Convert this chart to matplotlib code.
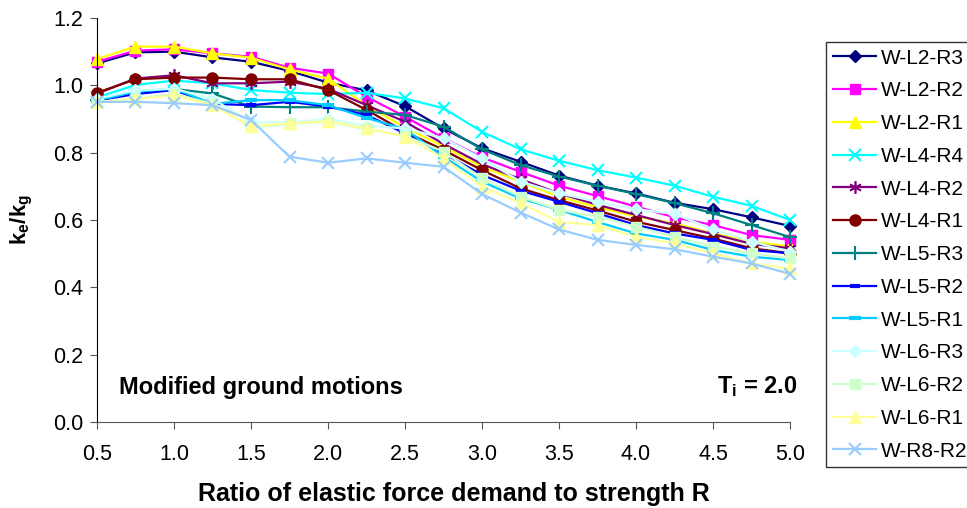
import matplotlib
matplotlib.use("Agg")
import matplotlib.pyplot as plt
from matplotlib.ticker import MultipleLocator, FormatStrFormatter

plt.rcParams['font.family'] = ['Liberation Sans', 'DejaVu Sans']
plt.rcParams['mathtext.fontset'] = 'custom'
plt.rcParams['mathtext.rm'] = 'Liberation Sans'
plt.rcParams['mathtext.bf'] = 'Liberation Sans:bold'
plt.rcParams['mathtext.it'] = 'Liberation Sans:italic'

R = [0.5, 0.75, 1.0, 1.25, 1.5, 1.75, 2.0, 2.25, 2.5, 2.75, 3.0,
     3.25, 3.5, 3.75, 4.0, 4.25, 4.5, 4.75, 5.0]

w_l2_r3 = [1.065, 1.098, 1.100, 1.083, 1.070, 1.043, 1.008, 0.985, 0.938, 0.872, 0.813,
           0.773, 0.732, 0.702, 0.679, 0.651, 0.632, 0.608, 0.582]
w_l2_r2 = [1.070, 1.103, 1.107, 1.095, 1.085, 1.052, 1.035, 0.966, 0.907, 0.843, 0.786,
           0.743, 0.702, 0.671, 0.640, 0.608, 0.585, 0.555, 0.541]
w_l2_r1 = [1.078, 1.115, 1.115, 1.095, 1.082, 1.047, 1.020, 0.940, 0.875, 0.818, 0.758,
           0.714, 0.669, 0.638, 0.610, 0.590, 0.560, 0.536, 0.521]
w_l4_r4 = [0.964, 1.001, 1.014, 1.006, 0.986, 0.978, 0.974, 0.978, 0.961, 0.932, 0.862,
           0.810, 0.776, 0.748, 0.726, 0.702, 0.669, 0.642, 0.600]
w_l4_r2 = [0.975, 1.020, 1.030, 1.006, 1.006, 1.011, 0.990, 0.941, 0.892, 0.826, 0.766,
           0.721, 0.679, 0.645, 0.615, 0.585, 0.558, 0.529, 0.516]
w_l4_r1 = [0.978, 1.018, 1.023, 1.023, 1.018, 1.018, 0.986, 0.927, 0.862, 0.808, 0.748,
           0.694, 0.659, 0.628, 0.595, 0.570, 0.545, 0.516, 0.501]
w_l5_r3 = [0.956, 0.981, 0.989, 0.976, 0.937, 0.935, 0.935, 0.922, 0.912, 0.877, 0.810,
           0.763, 0.729, 0.702, 0.677, 0.650, 0.620, 0.585, 0.549]
w_l5_r2 = [0.955, 0.974, 0.986, 0.945, 0.941, 0.951, 0.937, 0.912, 0.857, 0.798, 0.734,
           0.687, 0.654, 0.620, 0.585, 0.560, 0.541, 0.511, 0.501]
w_l5_r1 = [0.955, 0.981, 0.990, 0.945, 0.956, 0.956, 0.941, 0.903, 0.870, 0.788, 0.714,
           0.664, 0.630, 0.594, 0.560, 0.541, 0.511, 0.491, 0.481]
w_l6_r3 = [0.960, 0.985, 0.990, 0.960, 0.890, 0.890, 0.900, 0.880, 0.872, 0.843, 0.783,
           0.714, 0.679, 0.654, 0.632, 0.618, 0.572, 0.536, 0.506]
w_l6_r2 = [0.950, 0.960, 0.975, 0.945, 0.875, 0.885, 0.892, 0.870, 0.850, 0.803, 0.724,
           0.669, 0.630, 0.610, 0.580, 0.550, 0.521, 0.501, 0.486]
w_l6_r1 = [0.950, 0.959, 0.971, 0.941, 0.879, 0.887, 0.894, 0.872, 0.847, 0.783, 0.699,
           0.650, 0.594, 0.585, 0.550, 0.531, 0.501, 0.471, 0.456]
w_r8_r2 = [0.951, 0.951, 0.947, 0.941, 0.897, 0.788, 0.770, 0.783, 0.770, 0.758, 0.677,
           0.622, 0.572, 0.541, 0.526, 0.513, 0.491, 0.471, 0.440]

series_names = ['W-L2-R3', 'W-L2-R2', 'W-L2-R1', 'W-L4-R4', 'W-L4-R2', 'W-L4-R1',
                'W-L5-R3', 'W-L5-R2', 'W-L5-R1', 'W-L6-R3', 'W-L6-R2', 'W-L6-R1', 'W-R8-R2']
series_values = [w_l2_r3, w_l2_r2, w_l2_r1, w_l4_r4, w_l4_r2, w_l4_r1,
                 w_l5_r3, w_l5_r2, w_l5_r1, w_l6_r3, w_l6_r2, w_l6_r1, w_r8_r2]

colors = ['#000080', '#FF00FF', '#FFFF00', '#00FFFF', '#800080', '#800000',
          '#008080', '#0000FF', '#00CCFF', '#CCFFFF', '#CCFFCC', '#FFFF99', '#99CCFF']
markers = ['D', 's', '^', 'x', (6, 2, 0), 'o', '+', '_', '_', 'D', 's', '^', 'x']
msizes = [6, 7, 9, 9, 9, 8, 10, 7, 8, 6, 7, 9, 9]
mews = [1, 1, 1, 1.5, 1.2, 1, 1.5, 3, 3, 1, 1, 1, 1.5]

fig = plt.figure(figsize=(9.67, 5.08), dpi=100)
ax = fig.add_axes([0.1003, 0.1693, 0.7167, 0.7953])

for name, vals, c, m, ms, mew in zip(series_names, series_values, colors, markers, msizes, mews):
    ax.plot(R, vals, color=c, marker=m, markersize=ms, markeredgewidth=mew,
            markerfacecolor=c, markeredgecolor=c, linewidth=1.6, label=name,
            clip_on=False)

ax.set_xlim(0.5, 5.0)
ax.set_ylim(0.0, 1.2)
ax.xaxis.set_major_locator(MultipleLocator(0.5))
ax.yaxis.set_major_locator(MultipleLocator(0.2))
ax.xaxis.set_major_formatter(FormatStrFormatter('%.1f'))
ax.yaxis.set_major_formatter(FormatStrFormatter('%.1f'))
ax.spines['top'].set_visible(False)
ax.spines['right'].set_visible(False)
ax.spines['left'].set_color('black')
ax.spines['bottom'].set_color('#555555')
ax.tick_params(axis='both', direction='out', length=5, labelsize=15.5, colors='#555555',
               labelcolor='black')
ax.tick_params(axis='x', pad=11)
ax.tick_params(axis='y', pad=5)

ax.set_xlabel('Ratio of elastic force demand to strength R', fontsize=18,
              fontweight='bold', va='center')
ax.xaxis.set_label_coords(0.515, -0.178)
ax.set_ylabel(r'$\mathbf{k_e/k_g}$', fontsize=16, va='center')
ax.yaxis.set_label_coords(-0.108, 0.5)

ax.text(0.643, 0.083, 'Modified ground motions', fontsize=17, fontweight='bold',
        ha='left', va='baseline')
ax.text(5.052, 0.087, r'$\mathbf{T_i}$' + ' = 2.0', fontsize=17, fontweight='bold',
        ha='right', va='baseline')

leg = fig.legend(loc='upper left', bbox_to_anchor=(826 / 967, 1 - 42 / 508),
                 frameon=True, fancybox=False, edgecolor='black', fontsize=15,
                 handlelength=2.1, labelspacing=0.66, borderpad=0.32,
                 handletextpad=0.2, borderaxespad=0)
leg.get_frame().set_linewidth(1.0)

fig.savefig('out.png', dpi=100)
